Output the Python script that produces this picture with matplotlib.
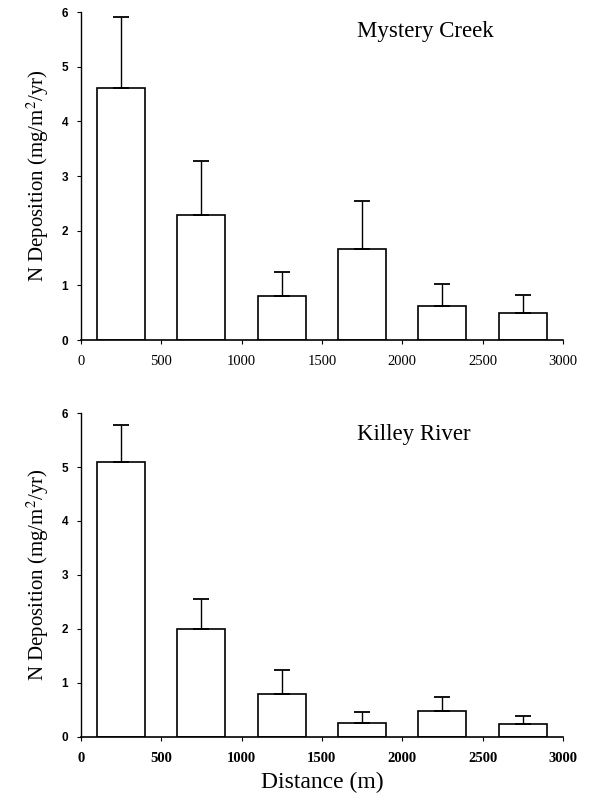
import matplotlib
matplotlib.use("Agg")
import matplotlib.pyplot as plt
import numpy as np

plt.rcParams['mathtext.fontset'] = 'stix'

distance = [250, 750, 1250, 1750, 2250, 2750]
mystery_vals = [4.61, 2.29, 0.81, 1.67, 0.62, 0.50]
mystery_err = [1.30, 0.99, 0.44, 0.87, 0.40, 0.32]
killey_vals = [5.10, 2.00, 0.80, 0.25, 0.48, 0.23]
killey_err = [0.68, 0.55, 0.44, 0.20, 0.26, 0.16]
xticks = [0, 500, 1000, 1500, 2000, 2500, 3000]
yticks = [0, 1, 2, 3, 4, 5, 6]
titles = ["Mystery Creek", "Killey River"]

fig = plt.figure(figsize=(5.9, 8.01), dpi=100)
ax1 = fig.add_axes([0.137, 0.5755, 0.817, 0.4095])
ax2 = fig.add_axes([0.137, 0.0803, 0.817, 0.404])

serif = 'Liberation Serif'
title_x = [0.715, 0.69]
for i, (ax, vals, err, title) in enumerate(zip([ax1, ax2], [mystery_vals, killey_vals],
                                                [mystery_err, killey_err], titles)):
    ax.bar(distance, vals, width=300, color='white', edgecolor='black', linewidth=1.2, zorder=2)
    ax.errorbar(distance, vals, yerr=[np.zeros(len(vals)), err], fmt='none',
                ecolor='black', elinewidth=1.0, capsize=6, capthick=1.3, zorder=3)
    ax.set_xlim(0, 3000)
    ax.set_ylim(0, 6)
    ax.set_xticks(xticks)
    ax.set_yticks(yticks)
    ax.spines['top'].set_visible(False)
    ax.spines['right'].set_visible(False)
    ax.spines['left'].set_linewidth(1.0)
    ax.spines['bottom'].set_linewidth(1.2)
    ax.tick_params(axis='y', direction='out', length=3, width=0.8, pad=6)
    ax.tick_params(axis='x', direction='out', length=3, width=0.8, pad=8)
    for lab in ax.get_yticklabels():
        lab.set_fontfamily('Liberation Sans')
        lab.set_fontweight('bold')
        lab.set_fontsize(8.5)
    for lab in ax.get_xticklabels():
        lab.set_fontfamily(serif)
        lab.set_fontsize(10.5)
        if i == 1:
            lab.set_fontweight('bold')
    ax.text(title_x[i], 0.94 if i == 0 else 0.935, title, transform=ax.transAxes, ha='center', va='center',
            fontsize=16.5, fontfamily=serif)
    ax.set_ylabel(r"N Deposition (mg/m$^{2}$/yr)", fontsize=15, fontfamily=serif, labelpad=8)

ax2.set_xlabel("Distance (m)", fontsize=17, fontfamily=serif, labelpad=5)

fig.savefig("out.png", dpi=100)
